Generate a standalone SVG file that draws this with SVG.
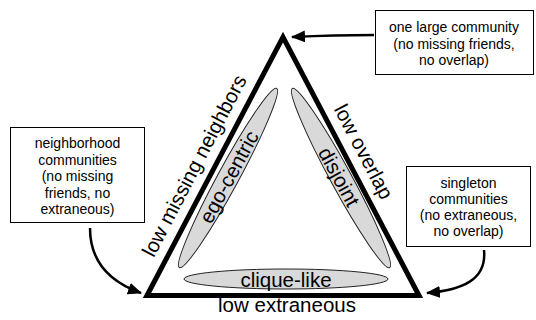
<svg xmlns="http://www.w3.org/2000/svg" width="536" height="320" viewBox="0 0 536 320">
<defs>
<marker id="ah" viewBox="0 0 14 12" refX="13" refY="6" markerWidth="14" markerHeight="12" markerUnits="userSpaceOnUse" orient="auto">
<path d="M0,0 L14,6 L0,12 Z" fill="#000"/>
</marker>
<style>
.box{fill:#fff;stroke:#000;stroke-width:1}
.bt{font-family:"Liberation Sans",Arial,sans-serif;font-size:14px;text-anchor:middle;fill:#000}
.lab{font-family:"Liberation Sans",Arial,sans-serif;font-size:20.5px;text-anchor:middle;fill:#000}
.ell{fill:#d9d9d9;stroke:#222;stroke-width:1}
.conn{fill:none;stroke:#000;stroke-width:2.5;marker-end:url(#ah)}
</style>
</defs>
<rect width="536" height="320" fill="#fff"/>
<g id="triangle">
<path d="M147,295.5 L283,37 L419,295.5 Z" fill="none" stroke="#000" stroke-width="5" stroke-linejoin="miter"/>
<text class="lab" transform="translate(200.5,169) rotate(-62.4)">low missing neighbors</text>
<text class="lab" transform="translate(357.5,155) rotate(62.4)">low overlap</text>
<text class="lab" x="287" y="312">low extraneous</text>
</g>
<g id="ego-centric">
<ellipse class="ell" cx="228" cy="178" rx="102" ry="10.5" transform="rotate(-61.5 228 178)"/>
<text class="lab" transform="translate(229,177) rotate(-61.5)" y="7">ego-centric</text>
</g>
<g id="disjoint">
<ellipse class="ell" cx="341" cy="178" rx="102" ry="10.5" transform="rotate(61.5 341 178)"/>
<text class="lab" transform="translate(339,177) rotate(61.5)" y="7">disjoint</text>
</g>
<g id="clique-like">
<ellipse class="ell" cx="286" cy="279" rx="102" ry="10"/>
<text class="lab" x="286" y="286.5">clique-like</text>
</g>
<g id="one-large">
<rect class="box" x="375.5" y="10.5" width="158" height="64"/>
<text class="bt" x="454" y="32">one large community</text>
<text class="bt" x="454" y="48.5">(no missing friends,</text>
<text class="bt" x="454" y="65">no overlap)</text>
</g>
<g id="neighborhood">
<rect class="box" x="10.5" y="127.5" width="134" height="95"/>
<text class="bt" x="77.5" y="148">neighborhood</text>
<text class="bt" x="77.5" y="164.5">communities</text>
<text class="bt" x="77.5" y="181">(no missing</text>
<text class="bt" x="77.5" y="197.5">friends, no</text>
<text class="bt" x="77.5" y="214">extraneous)</text>
</g>
<g id="singleton">
<rect class="box" x="406.5" y="166.5" width="124" height="80"/>
<text class="bt" x="468.5" y="188">singleton</text>
<text class="bt" x="468.5" y="204">communities</text>
<text class="bt" x="468.5" y="220">(no extraneous,</text>
<text class="bt" x="468.5" y="236">no overlap)</text>
</g>
<g id="connectors">
<path class="conn" d="M374,35 Q335,35 292,37"/>
<path class="conn" d="M90,228 C90,262 110,282 141,293"/>
<path class="conn" d="M484,250 C487,280 462,290 427,293"/>
</g>
</svg>
